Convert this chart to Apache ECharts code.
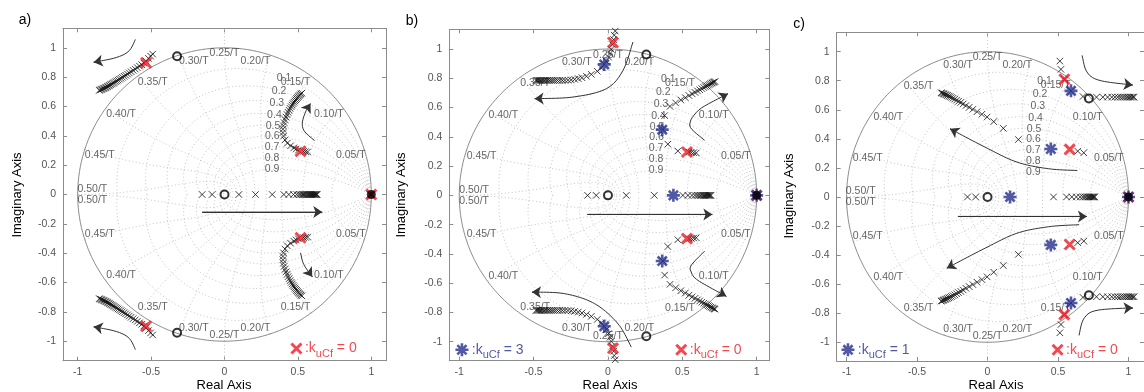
<!DOCTYPE html>
<html><head><meta charset="utf-8">
<script src="https://cdn.jsdelivr.net/npm/echarts@6/dist/echarts.min.js"></script>
<style>html,body{margin:0;padding:0;background:#fff}#c{width:1144px;height:392px}</style>
</head><body><div id="c"></div><script>
// ---------- DATA ----------
const xTicks = [-1, -0.5, 0, 0.5, 1];
const yTicks = [-1, -0.8, -0.6, -0.4, -0.2, 0, 0.2, 0.4, 0.6, 0.8, 1];
const freqLabels = ['0.05/T','0.10/T','0.15/T','0.20/T','0.25/T','0.30/T','0.35/T','0.40/T','0.45/T','0.50/T'];
const freqLabelPos = [[0.86,0.268],[0.711,0.55],[0.484,0.768],[0.211,0.909],[0,0.961],[-0.209,0.909],[-0.489,0.766],[-0.704,0.55],[-0.85,0.268],[-0.90,0.039]];
const dampLabels = ['0.1','0.2','0.3','0.4','0.5','0.6','0.7','0.8','0.9'];
const dampLabelPos = [[0.405,0.795],[0.372,0.708],[0.357,0.622],[0.34,0.544],[0.33,0.469],[0.326,0.396],[0.324,0.324],[0.324,0.25],[0.324,0.171]];

// panel a
const aLocusUL = [[-0.489,0.957],[-0.503,0.943],[-0.518,0.928],[-0.534,0.909],[-0.549,0.896],[-0.564,0.885],[-0.579,0.875],[-0.594,0.865],[-0.608,0.855],[-0.622,0.846],[-0.636,0.837],[-0.649,0.829],[-0.661,0.821],[-0.673,0.813],[-0.684,0.806],[-0.695,0.799],[-0.705,0.792],[-0.715,0.786],[-0.725,0.78],[-0.734,0.774],[-0.743,0.769],[-0.752,0.763],[-0.76,0.758],[-0.768,0.753],[-0.776,0.749],[-0.783,0.744],[-0.79,0.74],[-0.797,0.736],[-0.804,0.732],[-0.811,0.729],[-0.818,0.725],[-0.825,0.722],[-0.832,0.719],[-0.839,0.716],[-0.846,0.713],[-0.853,0.71]];
const aLocusLL = [[-0.489,-0.957],[-0.503,-0.943],[-0.518,-0.928],[-0.534,-0.909],[-0.549,-0.896],[-0.564,-0.885],[-0.579,-0.875],[-0.594,-0.865],[-0.608,-0.855],[-0.622,-0.846],[-0.636,-0.837],[-0.649,-0.829],[-0.661,-0.821],[-0.673,-0.813],[-0.684,-0.806],[-0.695,-0.799],[-0.705,-0.792],[-0.715,-0.786],[-0.725,-0.78],[-0.734,-0.774],[-0.743,-0.769],[-0.752,-0.763],[-0.76,-0.758],[-0.768,-0.753],[-0.776,-0.749],[-0.783,-0.744],[-0.79,-0.74],[-0.797,-0.736],[-0.804,-0.732],[-0.811,-0.729],[-0.818,-0.725],[-0.825,-0.722],[-0.832,-0.719],[-0.839,-0.716],[-0.846,-0.713],[-0.853,-0.71]];
const aLocusUR = [[0.566,0.29],[0.552,0.292],[0.538,0.294],[0.503,0.302],[0.488,0.31],[0.472,0.318],[0.45,0.332],[0.428,0.35],[0.412,0.372],[0.402,0.398],[0.398,0.422],[0.398,0.445],[0.401,0.468],[0.406,0.49],[0.412,0.51],[0.419,0.528],[0.426,0.545],[0.433,0.56],[0.44,0.574],[0.447,0.587],[0.454,0.599],[0.461,0.61],[0.467,0.62],[0.473,0.629],[0.479,0.638],[0.485,0.646],[0.491,0.654],[0.497,0.661],[0.503,0.668],[0.509,0.674],[0.515,0.68],[0.521,0.686],[0.527,0.691]];
const aLocusLR = [[0.566,-0.29],[0.552,-0.292],[0.538,-0.294],[0.503,-0.302],[0.488,-0.31],[0.472,-0.318],[0.45,-0.332],[0.428,-0.35],[0.412,-0.372],[0.402,-0.398],[0.398,-0.422],[0.398,-0.445],[0.401,-0.468],[0.406,-0.49],[0.412,-0.51],[0.419,-0.528],[0.426,-0.545],[0.433,-0.56],[0.44,-0.574],[0.447,-0.587],[0.454,-0.599],[0.461,-0.61],[0.467,-0.62],[0.473,-0.629],[0.479,-0.638],[0.485,-0.646],[0.491,-0.654],[0.497,-0.661],[0.503,-0.668],[0.509,-0.674],[0.515,-0.68],[0.521,-0.686],[0.527,-0.691]];
const aLocusReal = [-0.152,-0.084,0.098,0.211,0.325,0.404,0.438,0.47,0.492,0.508,0.52,0.53,0.539,0.547,0.555,0.562,0.569,0.575,0.581,0.587,0.593,0.598,0.603,0.608,0.613,0.618,0.623,0.627,0.631,0.992,0.996,1.0];
const aZeros = [[-0.323,0.943],[-0.323,-0.943],[0,0]];
const aStart = [[-0.534,0.898],[-0.534,-0.898],[0.518,0.295],[0.518,-0.295],[1,0]];
const aFinal = [];
const aBlob = [[1,0]];

// panel b
const bLocusUL = [[0.049,1.123],[0.042,1.095],[0.038,1.065],[0.03,1.03],[0.022,0.998],[0.014,0.97],[0.004,0.945],[-0.012,0.918],[-0.025,0.895],[-0.045,0.872],[-0.072,0.848],[-0.112,0.827],[-0.145,0.814],[-0.175,0.804],[-0.2,0.798],[-0.224,0.793],[-0.247,0.789],[-0.269,0.787],[-0.289,0.786],[-0.307,0.786],[-0.324,0.786],[-0.34,0.786],[-0.355,0.786],[-0.369,0.786],[-0.382,0.786],[-0.394,0.786],[-0.405,0.786],[-0.416,0.786],[-0.426,0.786],[-0.436,0.786],[-0.445,0.786],[-0.454,0.786],[-0.462,0.786],[-0.47,0.786],[-0.477,0.786],[-0.484,0.786]];
const bLocusLL = [[0.049,-1.123],[0.042,-1.095],[0.038,-1.065],[0.03,-1.03],[0.022,-0.998],[0.014,-0.97],[0.004,-0.945],[-0.012,-0.918],[-0.025,-0.895],[-0.045,-0.872],[-0.072,-0.848],[-0.112,-0.827],[-0.145,-0.814],[-0.175,-0.804],[-0.2,-0.798],[-0.224,-0.793],[-0.247,-0.789],[-0.269,-0.787],[-0.289,-0.786],[-0.307,-0.786],[-0.324,-0.786],[-0.34,-0.786],[-0.355,-0.786],[-0.369,-0.786],[-0.382,-0.786],[-0.394,-0.786],[-0.405,-0.786],[-0.416,-0.786],[-0.426,-0.786],[-0.436,-0.786],[-0.445,-0.786],[-0.454,-0.786],[-0.462,-0.786],[-0.47,-0.786],[-0.477,-0.786],[-0.484,-0.786]];
const bLocusUR = [[0.594,0.29],[0.577,0.292],[0.56,0.295],[0.545,0.296],[0.47,0.303],[0.403,0.35],[0.37,0.449],[0.381,0.545],[0.417,0.608],[0.455,0.632],[0.49,0.652],[0.52,0.668],[0.545,0.682],[0.566,0.694],[0.585,0.704],[0.602,0.714],[0.617,0.722],[0.631,0.73],[0.644,0.737],[0.655,0.743],[0.665,0.749],[0.675,0.754],[0.684,0.759],[0.692,0.764],[0.7,0.768],[0.707,0.772],[0.714,0.775],[0.72,0.778]];
const bLocusLR = [[0.594,-0.29],[0.577,-0.292],[0.56,-0.295],[0.545,-0.296],[0.47,-0.303],[0.403,-0.35],[0.37,-0.449],[0.381,-0.545],[0.417,-0.608],[0.455,-0.632],[0.49,-0.652],[0.52,-0.668],[0.545,-0.682],[0.566,-0.694],[0.585,-0.704],[0.602,-0.714],[0.617,-0.722],[0.631,-0.73],[0.644,-0.737],[0.655,-0.743],[0.665,-0.749],[0.675,-0.754],[0.684,-0.759],[0.692,-0.764],[0.7,-0.768],[0.707,-0.772],[0.714,-0.775],[0.72,-0.778]];
const bLocusReal = [-0.137,-0.079,0.123,0.312,0.504,0.538,0.565,0.585,0.6,0.612,0.623,0.633,0.642,0.65,0.657,0.664,0.67,0.676,0.682,0.688,0.693,0.992,0.996,1.0];
const bZeros = [[0.258,0.963],[0.258,-0.963],[0,0]];
const bStart = [[0.034,1.045],[0.034,-1.045],[0.531,0.296],[0.531,-0.296],[1,0]];
const bFinal = [[-0.025,0.895],[-0.025,-0.895],[0.365,0.449],[0.365,-0.449],[0.44,0],[1,0]];
const bBlob = [[1,0]];

// panel c
const cLocusUR = [[0.513,0.935],[0.521,0.878],[0.545,0.81],[0.592,0.73],[0.677,0.691],[0.773,0.687],[0.818,0.687],[0.852,0.687],[0.881,0.687],[0.904,0.687],[0.924,0.687],[0.942,0.687],[0.958,0.687],[0.972,0.687],[0.986,0.687],[0.998,0.687],[1.01,0.687],[1.021,0.687],[1.031,0.687],[1.04,0.687]];
const cLocusLR = [[0.513,-0.935],[0.521,-0.878],[0.545,-0.81],[0.592,-0.73],[0.677,-0.691],[0.773,-0.687],[0.818,-0.687],[0.852,-0.687],[0.881,-0.687],[0.904,-0.687],[0.924,-0.687],[0.942,-0.687],[0.958,-0.687],[0.972,-0.687],[0.986,-0.687],[0.998,-0.687],[1.01,-0.687],[1.021,-0.687],[1.031,-0.687],[1.04,-0.687]];
const cLocusUL = [[0.683,0.304],[0.64,0.315],[0.219,0.395],[0.112,0.472],[0.044,0.518],[-0.003,0.55],[-0.04,0.569],[-0.074,0.587],[-0.104,0.603],[-0.13,0.617],[-0.153,0.629],[-0.173,0.64],[-0.19,0.65],[-0.206,0.658],[-0.22,0.666],[-0.233,0.673],[-0.245,0.679],[-0.256,0.685],[-0.266,0.69],[-0.275,0.694],[-0.284,0.698],[-0.292,0.702],[-0.3,0.705],[-0.308,0.708],[-0.315,0.711],[-0.322,0.714],[-0.329,0.717]];
const cLocusLL = [[0.683,-0.304],[0.64,-0.315],[0.219,-0.395],[0.112,-0.472],[0.044,-0.518],[-0.003,-0.55],[-0.04,-0.569],[-0.074,-0.587],[-0.104,-0.603],[-0.13,-0.617],[-0.153,-0.629],[-0.173,-0.64],[-0.19,-0.65],[-0.206,-0.658],[-0.22,-0.666],[-0.233,-0.673],[-0.245,-0.679],[-0.256,-0.685],[-0.266,-0.69],[-0.275,-0.694],[-0.284,-0.698],[-0.292,-0.702],[-0.3,-0.705],[-0.308,-0.708],[-0.315,-0.711],[-0.322,-0.714],[-0.329,-0.717]];
const cLocusReal = [-0.142,-0.084,0.468,0.56,0.598,0.63,0.657,0.676,0.69,0.702,0.712,0.721,0.729,0.736,0.743,0.749,0.755,0.761,0.992,0.996,1.0];
const cZeros = [[0.719,0.677],[0.719,-0.677],[0,0]];
const cStart = [[0.545,0.81],[0.545,-0.81],[0.583,0.327],[0.583,-0.327],[1,0]];
const cFinal = [[0.592,0.73],[0.592,-0.73],[0.449,0.33],[0.449,-0.33],[0.16,0],[1,0]];
const cBlob = [[1,0]];

// annotation arrows (data coordinates)
const aArrows = [
  [[-0.607,1.057],[-0.652,0.977],[-0.743,0.932],[-0.891,0.902]],
  [[-0.607,-1.057],[-0.652,-0.977],[-0.743,-0.932],[-0.891,-0.902]],
  [[0.613,0.368],[0.545,0.43],[0.53,0.489],[0.553,0.565],[0.586,0.62]],
  [[0.518,-0.398],[0.54,-0.477],[0.598,-0.561]],
  [[-0.152,-0.12],[0.666,-0.12]]
];
const bArrows = [
  [[0.168,1.048],[0.101,0.854],[-0.011,0.729],[-0.235,0.672],[-0.493,0.661]],
  [[0.157,-1.037],[0.067,-0.877],[-0.09,-0.74],[-0.291,-0.672],[-0.511,-0.661]],
  [[0.65,0.376],[0.56,0.456],[0.553,0.501],[0.578,0.547],[0.639,0.604],[0.807,0.695]],
  [[0.65,-0.381],[0.56,-0.478],[0.56,-0.524],[0.605,-0.581],[0.796,-0.69]],
  [[-0.139,-0.13],[0.702,-0.13]]
];
const cArrows = [
  [[0.671,0.974],[0.705,0.86],[0.795,0.802],[1.03,0.77]],
  [[0.649,-0.953],[0.683,-0.838],[0.773,-0.781],[1.03,-0.763]],
  [[0.637,0.182],[0.434,0.194],[0.208,0.24],[-0.018,0.343],[-0.266,0.469]],
  [[0.649,-0.191],[0.434,-0.205],[0.208,-0.25],[-0.018,-0.353],[-0.289,-0.49]],
  [[-0.21,-0.134],[0.705,-0.134]]
];
const legendFinal = [null, {pos:[-0.982,-1.055], text:'3'}, {pos:[-0.99,-1.052], text:'1'}];
const legendStart = [{pos:[0.49,-1.05], text:'0'}, {pos:[0.493,-1.055], text:'0'}, {pos:[0.497,-1.052], text:'0'}];

// ---------- LAYOUT / STYLE ----------
const FONT = 'Liberation Sans, Arial, Helvetica, sans-serif';
const RED = '#ec1c24', BLUE = '#262f8f', GRIDC = '#c4c4c4', AX = '#8c8c8c', TXT = '#555555';
const grids = [
  {left:63, top:28.3, width:323, height:332.4, xmin:-1.1, xmax:1.1, ymin:-1.133, ymax:1.133},
  {left:449.3, top:29.3, width:320, height:331.4, xmin:-1.067, xmax:1.085, ymin:-1.13, ymax:1.135},
  {left:836.7, top:32.3, width:321.6, height:328.7, xmin:-1.07, xmax:1.11, ymin:-1.129, ymax:1.133}
];
const panels = [
  {locus:[aLocusUL,aLocusLL,aLocusUR,aLocusLR], real:aLocusReal, zeros:aZeros, start:aStart, fin:aFinal, blob:aBlob, arrows:aArrows},
  {locus:[bLocusUL,bLocusLL,bLocusUR,bLocusLR], real:bLocusReal, zeros:bZeros, start:bStart, fin:bFinal, blob:bBlob, arrows:bArrows},
  {locus:[cLocusUL,cLocusLL,cLocusUR,cLocusLR], real:cLocusReal, zeros:cZeros, start:cStart, fin:cFinal, blob:cBlob, arrows:cArrows}
];
const XSYM = 'path://M0 0L10 10M10 0L0 10';
const STAR = 'path://M5 0L5 10M0 5L10 5M1.46 1.46L8.54 8.54M8.54 1.46L1.46 8.54';

// z-plane grid (MATLAB zgrid geometry)
function zgrid() {
  const out = [];
  for (let k = 1; k <= 9; k++) {
    const z = k / 10, pts = [];
    for (let i = 0; i <= 120; i++) { const th = Math.PI * i / 120, r = Math.exp(-z * th / Math.sqrt(1 - z * z)); pts.push([r * Math.cos(th), r * Math.sin(th)]); }
    out.push(pts, pts.map(p => [p[0], -p[1]]));
  }
  for (let k = 1; k <= 10; k++) {
    const w = k * Math.PI / 10, pts = [];
    for (let i = 0; i <= 120; i++) { const z = i / 120, r = Math.exp(-z * w), th = w * Math.sqrt(1 - z * z); pts.push([r * Math.cos(th), r * Math.sin(th)]); }
    out.push(pts, pts.map(p => [p[0], -p[1]]));
  }
  return out;
}
function unitCircle() { const pts = []; for (let i = 0; i <= 360; i++) { const t = i * Math.PI / 180; pts.push([Math.cos(t), Math.sin(t)]); } return pts; }
function spline(pts) {
  if (pts.length < 3) return pts.slice();
  const out = [];
  for (let i = 0; i < pts.length - 1; i++) {
    const p0 = pts[Math.max(i - 1, 0)], p1 = pts[i], p2 = pts[i + 1], p3 = pts[Math.min(i + 2, pts.length - 1)];
    for (let s = 0; s < 12; s++) {
      const t = s / 12, t2 = t * t, t3 = t2 * t;
      out.push([0, 1].map(d => 0.5 * ((2 * p1[d]) + (-p0[d] + p2[d]) * t + (2 * p0[d] - 5 * p1[d] + 4 * p2[d] - p3[d]) * t2 + (-p0[d] + 3 * p1[d] - 3 * p2[d] + p3[d]) * t3)));
    }
  }
  out.push(pts[pts.length - 1]);
  return out;
}

const option = {animation:false, backgroundColor:'#fff', grid:[], xAxis:[], yAxis:[], series:[], graphic:[]};
grids.forEach((g, i) => {
  option.grid.push({left:g.left, top:g.top, width:g.width, height:g.height, containLabel:false});
  const common = {gridIndex:i, type:'value', splitLine:{show:false}, axisLine:{show:true, onZero:false, lineStyle:{color:AX, width:1}}};
  option.xAxis.push(Object.assign({}, common, {min:g.xmin, max:g.xmax, position:'bottom',
    axisTick:{show:true, inside:true, length:4, customValues:xTicks, lineStyle:{color:AX}},
    axisLabel:{show:true, customValues:xTicks, color:TXT, fontSize:10.5, fontFamily:FONT, margin:6, formatter:v => String(v)}}));
  option.xAxis.push(Object.assign({}, common, {min:g.xmin, max:g.xmax, position:'top',
    axisTick:{show:true, inside:true, length:4, customValues:xTicks, lineStyle:{color:AX}}, axisLabel:{show:false}}));
  option.yAxis.push(Object.assign({}, common, {min:g.ymin, max:g.ymax, position:'left',
    axisTick:{show:true, inside:true, length:4, customValues:yTicks, lineStyle:{color:AX}},
    axisLabel:{show:true, customValues:yTicks, color:TXT, fontSize:10.5, fontFamily:FONT, margin:7, formatter:v => String(v)}}));
  option.yAxis.push(Object.assign({}, common, {min:g.ymin, max:g.ymax, position:'right',
    axisTick:{show:true, inside:true, length:4, customValues:yTicks, lineStyle:{color:AX}}, axisLabel:{show:false}}));
  const xi = i * 2, yi = i * 2;
  const P = panels[i];
  // zgrid
  option.series.push({type:'lines', coordinateSystem:'cartesian2d', xAxisIndex:xi, yAxisIndex:yi, polyline:true, silent:true, z:1,
    lineStyle:{color:GRIDC, width:1, type:[1,2.5], opacity:1}, data:zgrid().map(c => ({coords:c}))});
  option.series.push({type:'lines', coordinateSystem:'cartesian2d', xAxisIndex:xi, yAxisIndex:yi, polyline:true, silent:true, z:1,
    lineStyle:{color:GRIDC, width:1, type:[1,2.5], opacity:1}, data:[{coords:[[0,1],[0,g.ymax]]},{coords:[[0,-1],[0,g.ymin]]}]});
  option.series.push({type:'lines', coordinateSystem:'cartesian2d', xAxisIndex:xi, yAxisIndex:yi, polyline:true, silent:true, z:2,
    lineStyle:{color:'#8a8a8a', width:1, opacity:1}, data:[{coords:unitCircle()}]});
  // grid labels
  const lab = [];
  freqLabels.forEach((t, k) => { lab.push([freqLabelPos[k][0], freqLabelPos[k][1], t]); lab.push([freqLabelPos[k][0], -freqLabelPos[k][1], t]); });
  dampLabels.forEach((t, k) => lab.push([dampLabelPos[k][0], dampLabelPos[k][1], t]));
  option.series.push({type:'scatter', xAxisIndex:xi, yAxisIndex:yi, silent:true, z:3, symbolSize:1, itemStyle:{color:'rgba(0,0,0,0)'},
    label:{show:true, position:'inside', formatter:p => p.value[2], color:'#3c3c3c', fontSize:10.5, fontFamily:FONT}, data:lab});
  // arrows
  P.arrows.forEach(a => {
    const sp = spline(a);
    option.series.push({type:'line', xAxisIndex:xi, yAxisIndex:yi, silent:true, z:4, symbol:'none', smooth:false,
      lineStyle:{color:'#333', width:1}, data:sp});
    const n = sp.length;
    option.series.push({type:'lines', coordinateSystem:'cartesian2d', xAxisIndex:xi, yAxisIndex:yi, silent:true, z:4,
      symbol:['none','arrow'], symbolSize:[6,9], lineStyle:{color:'#333', width:1, opacity:1, curveness:0},
      data:[{coords:[sp[Math.max(0,n-3)], sp[n-1]]}]});
  });
  // locus markers
  const pts = [];
  P.locus.forEach(L => L.forEach(p => pts.push(p)));
  P.real.forEach(x => pts.push([x, 0]));
  option.series.push({type:'scatter', xAxisIndex:xi, yAxisIndex:yi, silent:true, z:5, symbol:XSYM, symbolSize:6.5,
    itemStyle:{color:'rgba(0,0,0,0)', borderColor:'#111', borderWidth:1}, data:pts});
  option.series.push({type:'scatter', xAxisIndex:xi, yAxisIndex:yi, silent:true, z:6, symbol:'circle', symbolSize:8,
    itemStyle:{color:'rgba(0,0,0,0)', borderColor:'#000', borderWidth:2}, data:P.zeros});
  option.series.push({type:'scatter', xAxisIndex:xi, yAxisIndex:yi, silent:true, z:7, symbol:XSYM, symbolSize:10,
    itemStyle:{color:'rgba(0,0,0,0)', borderColor:RED, borderWidth:3}, data:P.start});
  option.series.push({type:'scatter', xAxisIndex:xi, yAxisIndex:yi, silent:true, z:8, symbol:STAR, symbolSize:13,
    itemStyle:{color:'rgba(0,0,0,0)', borderColor:BLUE, borderWidth:2.6}, data:P.fin});
  option.series.push({type:'scatter', xAxisIndex:xi, yAxisIndex:yi, silent:true, z:9, symbol:'circle', symbolSize:9,
    itemStyle:{color:'#000'}, data:P.blob});
  // legend entries
  const rich = c => ({n:{color:c, fontSize:14, fontFamily:FONT}, s:{color:c, fontSize:11, fontFamily:FONT, padding:[11,0,0,0]}});
  const ls = legendStart[i];
  option.series.push({type:'scatter', xAxisIndex:xi, yAxisIndex:yi, silent:true, z:10, symbol:XSYM, symbolSize:10,
    itemStyle:{color:'rgba(0,0,0,0)', borderColor:RED, borderWidth:3},
    label:{show:true, position:'right', distance:2, formatter:'{n|:k}{s|uCf}{n| = ' + ls.text + '}', rich:rich(RED)}, data:[ls.pos]});
  const lf = legendFinal[i];
  if (lf) option.series.push({type:'scatter', xAxisIndex:xi, yAxisIndex:yi, silent:true, z:10, symbol:STAR, symbolSize:13,
    itemStyle:{color:'rgba(0,0,0,0)', borderColor:BLUE, borderWidth:2.6},
    label:{show:true, position:'right', distance:2, formatter:'{n|:k}{s|uCf}{n| = ' + lf.text + '}', rich:rich(BLUE)}, data:[lf.pos]});
});
// titles
const centers = [[224,17,195,'a)',25,20],[610,401.5,195,'b)',412,21],[996,789,196,'c)',799,24]];
centers.forEach(c => {
  option.graphic.push({type:'text', x:c[0], y:385, style:{text:'Real Axis', font:'13px ' + FONT, fill:'#000', align:'center', verticalAlign:'middle'}});
  option.graphic.push({type:'text', x:c[1], y:c[2], rotation:Math.PI/2, style:{text:'Imaginary Axis', font:'13px ' + FONT, fill:'#000', align:'center', verticalAlign:'middle'}});
  option.graphic.push({type:'text', x:c[4], y:c[5], style:{text:c[3], font:'14px ' + FONT, fill:'#000', align:'center', verticalAlign:'middle'}});
});
const chart = echarts.init(document.getElementById('c'), null, {renderer:'canvas'});
chart.setOption(option);
</script></body></html>
